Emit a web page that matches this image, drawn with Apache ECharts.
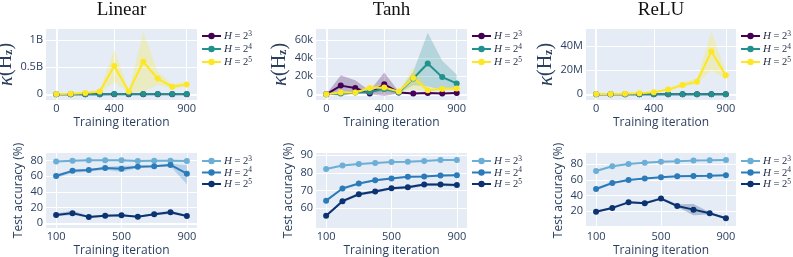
<!DOCTYPE html>
<html><head><meta charset="utf-8">
<script src="https://cdn.jsdelivr.net/npm/echarts@6/dist/echarts.min.js"></script>
<style>html,body{margin:0;padding:0;background:#fff}#c{width:793px;height:257px}</style>
</head><body><div id="c"></div>
<script>
// ---------------- DATA ----------------
const panelTitles = ['Linear', 'Tanh', 'ReLU'];
const hExponents = ['3', '4', '5'];
const itersTop = [0, 100, 200, 300, 400, 500, 600, 700, 800, 900];
const itersBottom = [100, 200, 300, 400, 500, 600, 700, 800, 900];
const xTicksTop = [0, 400, 900];
const xTicksBottom = [100, 500, 900];

// Top row: kappa(H_z); mean / lower / upper
const linK3 = [1e6, 2e6, 2e6, 3e6, 3e6, 3e6, 3e6, 3e6, 3e6, 3e6];
const linK3Lo = [0, 1e6, 1e6, 2e6, 2e6, 2e6, 2e6, 2e6, 2e6, 2e6];
const linK3Hi = [2e6, 3e6, 3e6, 4e6, 4e6, 4e6, 4e6, 4e6, 4e6, 4e6];
const linK4 = [1e6, 2e6, 3e6, 3e6, 4e6, 4e6, 4e6, 4e6, 4e6, 4e6];
const linK4Lo = [0, 1e6, 2e6, 2e6, 3e6, 3e6, 3e6, 3e6, 3e6, 3e6];
const linK4Hi = [2e6, 3e6, 4e6, 4e6, 5e6, 5e6, 5e6, 5e6, 5e6, 5e6];
const linK5 = [0.005e9, 0.012e9, 0.025e9, 0.05e9, 0.52e9, 0.05e9, 0.6e9, 0.29e9, 0.14e9, 0.18e9];
const linK5Lo = [0.0, 0.005e9, 0.01e9, 0.02e9, 0.22e9, 0.03e9, 0.05e9, 0.17e9, 0.1e9, 0.15e9];
const linK5Hi = [0.01e9, 0.02e9, 0.04e9, 0.08e9, 0.82e9, 0.07e9, 1.15e9, 0.42e9, 0.19e9, 0.23e9];

const tanhK3 = [0, 9600, 7000, 1000, 11000, 2000, 1000, 1500, 1000, 1500];
const tanhK3Lo = [0, -2000, 1000, 0, -2000, 1000, 500, 1000, 500, 1000];
const tanhK3Hi = [0, 21000, 15500, 4000, 24000, 3000, 1500, 2000, 1500, 2000];
const tanhK4 = [0, 1000, 2000, 2500, 6000, 2000, 17500, 34000, 19000, 12000];
const tanhK4Lo = [0, 0, 1000, 1500, 3000, 1500, 10000, 8500, 5000, 6000];
const tanhK4Hi = [0, 2000, 3000, 4000, 8500, 3000, 25000, 68000, 37000, 22000];
const tanhK5 = [0, 2000, 2000, 7000, 7500, 3000, 18000, 4500, 6000, 6500];
const tanhK5Lo = [0, 1000, 1000, 4000, 3000, 2000, 6000, 3000, 4000, 5000];
const tanhK5Hi = [0, 3000, 3000, 10000, 11000, 4000, 30000, 7000, 8000, 8000];

const reluK3 = [0.01e6, 0.01e6, 0.01e6, 0.01e6, 0.01e6, 0.01e6, 0.01e6, 0.01e6, 0.01e6, 0.01e6];
const reluK3Lo = [0, 0, 0, 0, 0, 0, 0, 0, 0, 0];
const reluK3Hi = [0.02e6, 0.02e6, 0.02e6, 0.02e6, 0.02e6, 0.02e6, 0.02e6, 0.02e6, 0.02e6, 0.02e6];
const reluK4 = [0.02e6, 0.02e6, 0.03e6, 0.03e6, 0.03e6, 0.03e6, 0.03e6, 0.03e6, 0.03e6, 0.03e6];
const reluK4Lo = [0.01e6, 0.01e6, 0.02e6, 0.02e6, 0.02e6, 0.02e6, 0.02e6, 0.02e6, 0.02e6, 0.02e6];
const reluK4Hi = [0.03e6, 0.03e6, 0.04e6, 0.04e6, 0.04e6, 0.04e6, 0.04e6, 0.04e6, 0.04e6, 0.04e6];
const reluK5 = [0.2e6, 0.3e6, 0.5e6, 0.9e6, 1.8e6, 3.9e6, 7.7e6, 10.5e6, 35.5e6, 15.7e6];
const reluK5Lo = [0.1e6, 0.2e6, 0.3e6, 0.6e6, 1.2e6, 3.0e6, 6.0e6, 8.5e6, 20e6, 12e6];
const reluK5Hi = [0.3e6, 0.4e6, 0.7e6, 1.2e6, 2.5e6, 5.0e6, 10e6, 13e6, 52e6, 18.5e6];

// Bottom row: test accuracy (%); mean / lower / upper
const linA3 = [78.8, 80.0, 80.5, 80.5, 80.6, 79.6, 79.8, 80.0, 79.6];
const linA3Lo = [78.1, 79.3, 79.8, 79.8, 79.9, 78.9, 79.1, 79.3, 78.9];
const linA3Hi = [79.5, 80.7, 81.2, 81.2, 81.3, 80.3, 80.5, 80.7, 80.3];
const linA4 = [60.5, 67.0, 68.0, 70.5, 69.8, 72.2, 73.0, 74.5, 63.4];
const linA4Lo = [57.5, 64.5, 66.0, 68.5, 65.5, 70.5, 71.5, 72.5, 50.0];
const linA4Hi = [63.0, 68.5, 69.5, 72.0, 73.5, 73.5, 74.0, 76.0, 74.0];
const linA5 = [10.6, 13.0, 8.2, 9.7, 10.2, 8.5, 11.5, 14.0, 9.3];
const linA5Lo = [9.0, 10.5, 7.0, 8.5, 9.0, 7.5, 10.0, 12.0, 8.3];
const linA5Hi = [12.5, 16.0, 9.5, 11.0, 11.5, 9.5, 13.0, 16.5, 10.5];

const tanhA3 = [82.2, 84.2, 85.1, 85.6, 86.2, 86.4, 86.8, 87.3, 87.3];
const tanhA3Lo = [81.9, 83.9, 84.8, 85.3, 85.9, 86.1, 86.5, 87.0, 87.0];
const tanhA3Hi = [82.5, 84.5, 85.4, 85.9, 86.5, 86.7, 87.1, 87.6, 87.6];
const tanhA4 = [64.3, 71.2, 74.0, 75.8, 76.9, 77.8, 78.0, 78.5, 78.7];
const tanhA4Lo = [63.8, 70.7, 73.5, 75.3, 76.4, 77.3, 77.5, 78.0, 78.2];
const tanhA4Hi = [64.8, 71.7, 74.5, 76.3, 77.4, 78.3, 78.5, 79.0, 79.2];
const tanhA5 = [55.7, 64.0, 67.9, 69.5, 71.3, 71.9, 73.4, 73.4, 73.1];
const tanhA5Lo = [54.9, 63.2, 67.1, 68.7, 70.5, 71.1, 72.6, 72.6, 72.3];
const tanhA5Hi = [56.5, 64.8, 68.7, 70.3, 72.1, 72.7, 74.2, 74.2, 73.9];

const reluA3 = [71.4, 77.4, 80.4, 82.1, 83.4, 83.9, 84.7, 85.1, 85.6];
const reluA3Lo = [70.0, 76.4, 79.6, 81.4, 82.7, 83.2, 84.0, 84.4, 84.9];
const reluA3Hi = [72.8, 78.4, 81.2, 82.8, 84.1, 84.6, 85.4, 85.8, 86.3];
const reluA4 = [48.3, 56.0, 59.9, 61.6, 63.3, 64.6, 65.0, 65.4, 65.9];
const reluA4Lo = [46.8, 54.8, 58.9, 60.7, 62.4, 63.8, 64.2, 64.6, 65.1];
const reluA4Hi = [49.8, 57.2, 60.9, 62.5, 64.2, 65.4, 65.8, 66.2, 66.7];
const reluA5 = [19.1, 23.9, 31.1, 29.9, 35.9, 26.4, 21.7, 17.0, 10.6];
const reluA5Lo = [18.0, 22.5, 30.0, 28.5, 34.5, 25.0, 14.5, 15.5, 9.5];
const reluA5Hi = [20.5, 25.5, 32.5, 31.5, 37.5, 28.5, 29.0, 18.5, 12.0];

const yTicksK = [[0, 0.5e9, 1e9], [0, 20000, 40000, 60000], [0, 20e6, 40e6]];
const yTicksA = [[0, 20, 40, 60, 80], [60, 70, 80, 90], [20, 40, 60, 80]];

// ---------------- LAYOUT / STYLE ----------------
const LEFT = [46, 316, 586], WIDTH = [151, 151, 150];
const TOP = [29, 153], HEIGHT = [71, 75];
const yRangeTop = [[-0.105e9, 1.203e9], [-6300, 72200], [-4.72e6, 54.1e6]];
const yRangeBot = [[-6.0, 89.8], [48.8, 91.3], [-1.9, 94.5]];
const xRangeTop = [-71, 971], xRangeBot = [38, 962];
const viridis = ['#440154', '#21918c', '#fde725'];
const blues = ['#6baed6', '#2b7bba', '#0b3271'];
const TXT = '#2a3f5f';
const LEG = '#1f2a44';
const SANS = '"Open Sans", "Noto Sans", sans-serif';
const SERIF = '"Liberation Serif", "DejaVu Serif", serif';

const topGroups = [
  [[linK3, linK3Lo, linK3Hi], [linK4, linK4Lo, linK4Hi], [linK5, linK5Lo, linK5Hi]],
  [[tanhK3, tanhK3Lo, tanhK3Hi], [tanhK4, tanhK4Lo, tanhK4Hi], [tanhK5, tanhK5Lo, tanhK5Hi]],
  [[reluK3, reluK3Lo, reluK3Hi], [reluK4, reluK4Lo, reluK4Hi], [reluK5, reluK5Lo, reluK5Hi]]
];
const botGroups = [
  [[linA3, linA3Lo, linA3Hi], [linA4, linA4Lo, linA4Hi], [linA5, linA5Lo, linA5Hi]],
  [[tanhA3, tanhA3Lo, tanhA3Hi], [tanhA4, tanhA4Lo, tanhA4Hi], [tanhA5, tanhA5Lo, tanhA5Hi]],
  [[reluA3, reluA3Lo, reluA3Hi], [reluA4, reluA4Lo, reluA4Hi], [reluA5, reluA5Lo, reluA5Hi]]
];
const kFmt = [
  v => v === 0 ? '0' : (v / 1e9) + 'B',
  v => v === 0 ? '0' : (v / 1000) + 'k',
  v => v === 0 ? '0' : (v / 1e6) + 'M'
];

const grid = [], xAxis = [], yAxis = [], series = [], legend = [], title = [];
const legendNames = {};

function axisCommon(ticks, fmt) {
  return {
    axisLine: { show: false },
    axisTick: { show: false, customValues: ticks },
    axisLabel: { customValues: ticks, color: TXT, fontFamily: SANS, fontSize: 11, margin: 3, formatter: fmt },
    splitLine: { show: true, lineStyle: { color: '#ffffff', width: 1 } }
  };
}

function bandSeries(gi, xs, lo, hi, color) {
  return {
    type: 'custom', xAxisIndex: gi, yAxisIndex: gi, silent: true, z: 2, clip: true,
    data: xs.map((x, i) => [x, lo[i], hi[i]]),
    encode: { x: 0, y: [1, 2] },
    renderItem: (params, api) => {
      if (params.dataIndex !== 0) return null;
      const pts = [];
      for (let i = 0; i < xs.length; i++) pts.push(api.coord([xs[i], hi[i]]));
      for (let i = xs.length - 1; i >= 0; i--) pts.push(api.coord([xs[i], lo[i]]));
      return { type: 'polygon', shape: { points: pts },
        style: { fill: echarts.color.modifyAlpha(color, 0.25), stroke: null } };
    }
  };
}

function addPanel(gi, row, col) {
  const isTop = row === 0;
  grid.push({ left: LEFT[col], top: TOP[row], width: WIDTH[col], height: HEIGHT[row],
    containLabel: false, outerBoundsMode: 'none', show: true, backgroundColor: '#E5ECF6', borderWidth: 0 });
  const xs = isTop ? itersTop : itersBottom;
  const xr = isTop ? xRangeTop : xRangeBot;
  xAxis.push(Object.assign({
    type: 'value', gridIndex: gi, min: xr[0], max: xr[1],
    name: 'Training iteration', nameLocation: 'middle', nameGap: 17,
    nameTextStyle: { color: TXT, fontFamily: SANS, fontSize: 12 }
  }, axisCommon(isTop ? xTicksTop : xTicksBottom, v => String(v))));
  const yr = isTop ? yRangeTop[col] : yRangeBot[col];
  const yCfg = Object.assign({
    type: 'value', gridIndex: gi, min: yr[0], max: yr[1],
    nameLocation: 'middle', nameRotate: 90
  }, axisCommon(isTop ? yTicksK[col] : yTicksA[col], isTop ? kFmt[col] : (v => String(v))));
  if (isTop) {
    yCfg.name = '{k|κ}{n|(H}{s|z}{n|)}';
    yCfg.nameGap = 22;
    yCfg.nameTextStyle = { color: TXT, fontFamily: SERIF, fontSize: 20, rich: {
      k: { fontFamily: SERIF, fontStyle: 'italic', fontSize: 21, color: TXT, lineHeight: 19, verticalAlign: 'top' },
      n: { fontFamily: SERIF, fontSize: 20, color: TXT, lineHeight: 19, verticalAlign: 'top' },
      s: { fontFamily: SERIF, fontSize: 12, fontWeight: 'bold', color: TXT, lineHeight: 5, verticalAlign: 'bottom' }
    } };
  } else {
    yCfg.name = 'Test accuracy (%)';
    yCfg.nameGap = 21;
    yCfg.nameTextStyle = { color: TXT, fontFamily: SANS, fontSize: 12 };
  }
  yAxis.push(yCfg);

  const groups = isTop ? topGroups[col] : botGroups[col];
  const colors = isTop ? viridis : blues;
  // zero lines (plotly style)
  const zl = [{ yAxis: 0 }];
  if (isTop) zl.push({ xAxis: 0 });
  series.push({ type: 'line', xAxisIndex: gi, yAxisIndex: gi, data: [], silent: true, z: 1,
    markLine: { silent: true, z: 1, symbol: 'none', label: { show: false }, animation: false,
      lineStyle: { color: '#ffffff', width: 2, type: 'solid' }, data: zl } });
  groups.forEach((g, k) => series.push(bandSeries(gi, xs, g[1], g[2], colors[k])));
  const names = [];
  groups.forEach((g, k) => {
    const nm = 'p' + gi + '_' + k;
    names.push(nm);
    legendNames[nm] = hExponents[k];
    series.push({ type: 'line', name: nm, xAxisIndex: gi, yAxisIndex: gi,
      data: xs.map((x, i) => [x, g[0][i]]), symbol: 'circle', symbolSize: 6, showSymbol: true,
      lineStyle: { color: colors[k], width: 2 }, itemStyle: { color: colors[k] }, z: 3 });
  });
  legend.push({
    data: names, orient: 'vertical', left: LEFT[col] + WIDTH[col] + 4, top: isTop ? 30 : 155,
    itemWidth: 19, itemHeight: 8, itemGap: isTop ? 1 : -0.5, padding: 0, selectedMode: false,
    formatter: nm => '{i|H}{n| = 2}{s|' + legendNames[nm] + '}',
    textStyle: { color: LEG, fontFamily: SERIF, fontSize: 10.5, padding: [0, 0, 0, -2], rich: {
      i: { fontFamily: SERIF, fontStyle: 'italic', fontSize: 11, color: LEG, lineHeight: 12, verticalAlign: 'bottom' },
      n: { fontFamily: SERIF, fontSize: 10.5, color: LEG, lineHeight: 12, verticalAlign: 'bottom' },
      s: { fontFamily: SERIF, fontSize: 7.5, color: LEG, lineHeight: 5, verticalAlign: 'top' }
    } }
  });
}

for (let r = 0; r < 2; r++) for (let c = 0; c < 3; c++) addPanel(r * 3 + c, r, c);
for (let c = 0; c < 3; c++) {
  title.push({ text: panelTitles[c], left: LEFT[c] + WIDTH[c] / 2, top: 1, textAlign: 'center', padding: 0,
    textStyle: { fontFamily: SERIF, fontSize: 19, fontWeight: 'normal', color: '#111111' } });
}

const chart = echarts.init(document.getElementById('c'));
chart.setOption({ animation: false, backgroundColor: '#ffffff', title, grid, xAxis, yAxis, series, legend });
</script></body></html>
